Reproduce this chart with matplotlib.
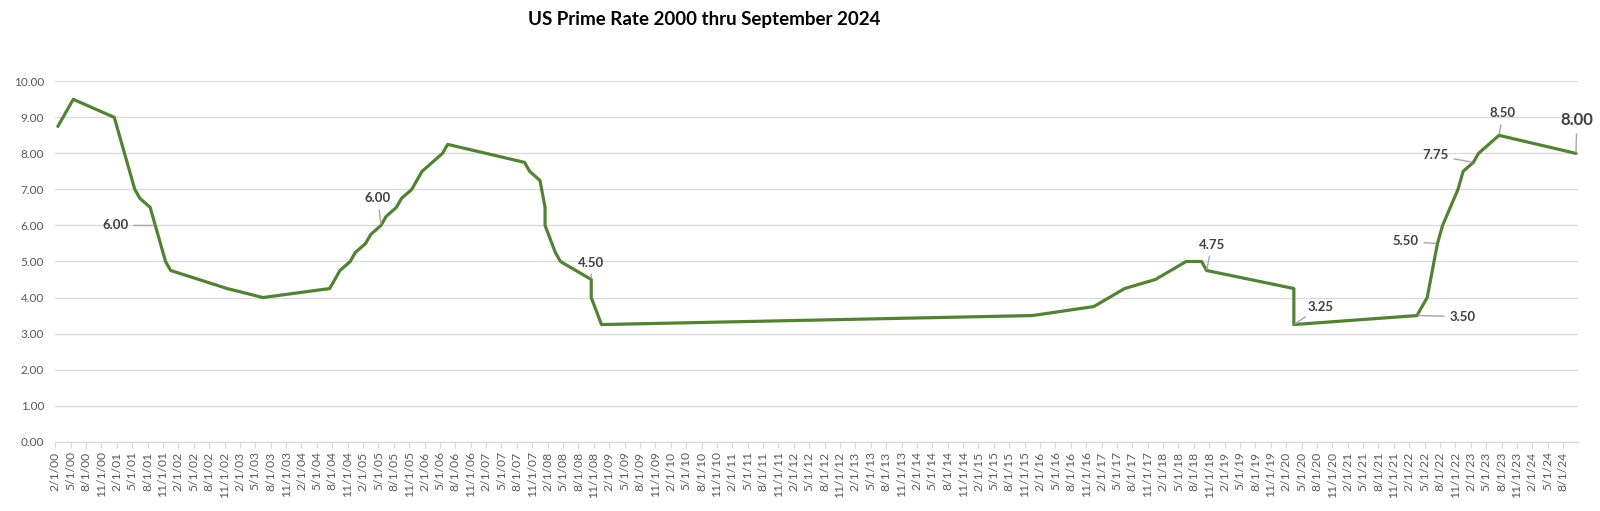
import numpy as np
import matplotlib
matplotlib.use("Agg")
import matplotlib.pyplot as plt

# prime rate observations, month of change (Excel date axis, base unit = months)
months = ["2000-02", "2000-03", "2000-05", "2001-01", "2001-02", "2001-03", "2001-04",
          "2001-05", "2001-06", "2001-08", "2001-09", "2001-10", "2001-11", "2001-12",
          "2002-11", "2003-06", "2004-07", "2004-08", "2004-09", "2004-11", "2004-12",
          "2005-02", "2005-03", "2005-05", "2005-06", "2005-08", "2005-09", "2005-11",
          "2005-12", "2006-01", "2006-03", "2006-05", "2006-06", "2007-09", "2007-10",
          "2007-12", "2008-01", "2008-01", "2008-03", "2008-04", "2008-10", "2008-10",
          "2008-12", "2015-12", "2016-12", "2017-03", "2017-06", "2017-12", "2018-03",
          "2018-06", "2018-09", "2018-10", "2020-03", "2020-03", "2022-03", "2022-05",
          "2022-06", "2022-07", "2022-08", "2022-11", "2022-12", "2023-02", "2023-03",
          "2023-05", "2023-07", "2024-10"]
rates = [8.75, 9.00, 9.50, 9.00, 8.50, 8.00, 7.50,
         7.00, 6.75, 6.50, 6.00, 5.50, 5.00, 4.75,
         4.25, 4.00, 4.25, 4.50, 4.75, 5.00, 5.25,
         5.50, 5.75, 6.00, 6.25, 6.50, 6.75, 7.00,
         7.25, 7.50, 7.75, 8.00, 8.25, 7.75, 7.50,
         7.25, 6.50, 6.00, 5.25, 5.00, 4.50, 4.00,
         3.25, 3.50, 3.75, 4.00, 4.25, 4.50, 4.75,
         5.00, 5.00, 4.75, 4.25, 3.25, 3.50, 4.00,
         4.75, 5.50, 6.00, 7.00, 7.50, 7.75, 8.00,
         8.25, 8.50, 8.00]

# labelled points
label_months = ["2001-09", "2005-05", "2008-10", "2018-10", "2020-03",
                "2022-03", "2022-07", "2023-02", "2023-07", "2024-10"]
label_values = [6.00, 6.00, 4.50, 4.75, 3.25, 3.50, 5.50, 7.75, 8.50, 8.00]

first_month = "2000-02"
last_month = "2024-10"


def month_index(s):
    y, m = int(s[:4]), int(s[5:])
    y0, m0 = int(first_month[:4]), int(first_month[5:])
    return (y - y0) * 12 + (m - m0)


x = np.array([month_index(m) for m in months]) + 0.5
y = np.array(rates)
n_months = month_index(last_month) + 1

plt.rcParams["font.family"] = ["Lato", "DejaVu Sans"]

fig = plt.figure(figsize=(16, 5.11), dpi=100)
ax = fig.add_axes([0.03456, 0.13562, 0.95200, 0.70528])

ax.plot(x, y, color="#548235", lw=2.3, solid_joinstyle="round", solid_capstyle="round", zorder=3)

ax.set_xlim(0, n_months)
ax.set_ylim(0, 10)
ax.set_yticks(np.arange(0, 11, 1))
ax.set_yticklabels([f"{v:.2f}" for v in range(11)])

tick_pos = np.arange(0, n_months, 3)
tick_lab = []
for t in tick_pos:
    mm = (1 + t) % 12 + 1
    yy = 2000 + (1 + t) // 12
    tick_lab.append(f"{mm}/1/{yy % 100:02d}")
ax.set_xticks(tick_pos)
ax.set_xticklabels(tick_lab, rotation=90)

ax.grid(axis="y", color="#D9D9D9", lw=0.9)
ax.set_axisbelow(True)
for s in ["top", "right", "left"]:
    ax.spines[s].set_visible(False)
ax.spines["bottom"].set_color("#D9D9D9")
ax.spines["bottom"].set_linewidth(0.9)
ax.tick_params(axis="y", length=0, pad=8, labelsize=8.5, labelcolor="#595959")
ax.tick_params(axis="x", length=4, color="#D9D9D9", width=0.9, pad=3,
               labelsize=8.7, labelcolor="#595959")

offsets = [(-40, 0), (-3, 27), (0, 17), (5, 26), (27, 18),
           (46, -1), (-32, 2), (-38, 7), (4, 22), (1, 33)]
for m, v, off in zip(label_months, label_values, offsets):
    big = m == last_month
    ax.annotate(f"{v:.2f}", xy=(month_index(m) + 0.5, v), xytext=off,
                textcoords="offset pixels", ha="center", va="center",
                fontsize=12 if big else 9.5, fontweight="bold", color="#404040",
                arrowprops=dict(arrowstyle="-", color="#A6A6A6", lw=1.0,
                                shrinkA=2, shrinkB=1))

fig.text(0.44, 0.962, "US Prime Rate 2000 thru September 2024", ha="center", va="center",
         fontsize=13.5, fontweight="bold", color="black")

fig.savefig("out.png", dpi=100)
